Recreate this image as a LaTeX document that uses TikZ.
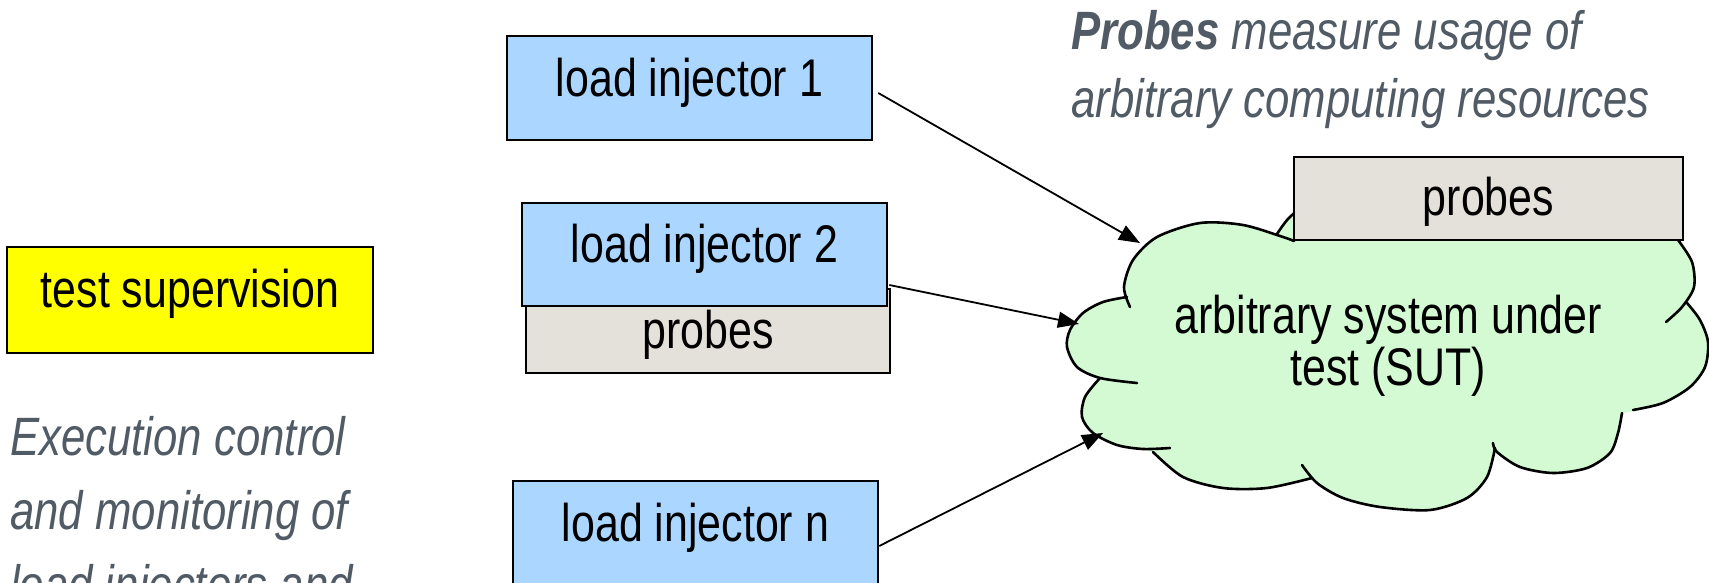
\documentclass[tikz,border=0pt]{standalone}
\usepackage{fontspec}
\setmainfont[FakeStretch=0.81]{Liberation Sans}
\usetikzlibrary{arrows.meta,calc}

\definecolor{injblue}{RGB}{170,214,255}
\definecolor{probegray}{RGB}{228,224,218}
\definecolor{supyellow}{RGB}{255,255,0}
\definecolor{cloudgreen}{RGB}{212,250,212}
\definecolor{notegray}{RGB}{81,91,101}

\begin{document}
\begin{tikzpicture}[x=1pt,y=-1pt,
  boxbase/.style={draw=black, line width=2.6pt, inner sep=0pt,
    font=\fontsize{53}{64}\selectfont, text height=38pt},
  injbox/.style={boxbase, fill=injblue, minimum width=365pt, minimum height=104pt},
  probebox/.style={boxbase, fill=probegray},
  supbox/.style={boxbase, fill=supyellow, minimum width=366pt, minimum height=106pt},
  note/.style={text=notegray, inner sep=0pt, align=left,
    font=\fontsize{54}{64}\selectfont\itshape},
  cloudline/.style={draw=black, line width=2.6pt, line cap=round},
  flow/.style={draw=black, line width=1.8pt, -{Triangle[length=21pt,width=16pt]}},
  cloudfill/.style={fill=cloudgreen, draw=cloudgreen, line width=1.5pt}]

\useasboundingbox (0,0) rectangle (1709,583);
\clip (0,0) rectangle (1709,583);

% supervision box and its note (base anchor = last line)
\node[supbox, text depth=24pt] (sup) at (190,300) {test supervision};
\node[note, anchor=base west,
  font=\fontsize{54}{74}\selectfont\itshape] (supnote) at (10,603)
  {Execution control\\and monitoring of\\load injectors and};

% load injectors
\node[injbox, text depth=20pt] (li1) at (689.5,88) {load injector 1};
\node[probebox, minimum width=364pt, minimum height=84pt, text depth=4pt]
  (pr2) at (708,331) {probes};
\node[injbox, minimum height=103pt, text depth=23pt] (li2) at (704.5,254.5) {load injector 2};
\node[injbox, text depth=22pt] (lin) at (695.5,533) {load injector n};

% cloud: filled body first
\fill[cloudfill] (1127,297) -- (1145,258) -- (1200,228) -- (1277,234) -- (1296,212)
  -- (1300,240) -- (1678,240) -- (1688,280) -- (1687,303) -- (1700,345)
  -- (1633,410) -- (1622,413) -- (1600,455) -- (1540,468) -- (1495,448)
  -- (1455,492) -- (1380,500) -- (1306,478) -- (1230,482) -- (1153,452)
  -- (1095,425) -- (1100,378) -- (1075,345) -- cycle;
\fill[cloudfill] plot[smooth] coordinates {(1130,307) (1124,287) (1133,260) (1157,237) (1200,223) (1243,225) (1283,237) (1294,241)} -- cycle;
\fill[cloudfill] plot[smooth] coordinates {(1277,234) (1288,219) (1305,205) (1330,195)} -- cycle;
\fill[cloudfill] plot[smooth] coordinates {(1678,240) (1692,262) (1694,287) (1682,307) (1666,322)} -- cycle;
\fill[cloudfill] plot[smooth] coordinates {(1687,303) (1700,320) (1708,342) (1705,367) (1690,387) (1663,403) (1633,410)} -- cycle;
\fill[cloudfill] plot[smooth] coordinates {(1622,413) (1618,433) (1610,453) (1587,468) (1553,473) (1520,467) (1497,452) (1493,443)} -- cycle;
\fill[cloudfill] plot[smooth] coordinates {(1495,448) (1487,477) (1467,498) (1430,510) (1380,507) (1343,498) (1317,483) (1302,465)} -- cycle;
\fill[cloudfill] plot[smooth] coordinates {(1312,478) (1267,488) (1223,488) (1183,477) (1153,452)} -- cycle;
\fill[cloudfill] plot[smooth] coordinates {(1100,378) (1085,397) (1082,417) (1093,433) (1117,445) (1143,449) (1170,448)} -- cycle;
\fill[cloudfill] plot[smooth] coordinates {(1127,297) (1103,302) (1083,313) (1070,330) (1067,347) (1077,367) (1100,378) (1137,383)} -- cycle;

% cloud: outline of each bump, with the inner curls
\draw[cloudline] plot[smooth] coordinates {(1130,307) (1124,287) (1133,260) (1157,237) (1200,223) (1243,225) (1283,237) (1294,241)};
\draw[cloudline] plot[smooth] coordinates {(1277,234) (1288,219) (1305,205) (1330,195)};
\draw[cloudline] plot[smooth] coordinates {(1678,240) (1692,262) (1694,287) (1682,307) (1666,322)};
\draw[cloudline] plot[smooth] coordinates {(1687,303) (1700,320) (1708,342) (1705,367) (1690,387) (1663,403) (1633,410)};
\draw[cloudline] plot[smooth] coordinates {(1622,413) (1618,433) (1610,453) (1587,468) (1553,473) (1520,467) (1497,452) (1493,443)};
\draw[cloudline] plot[smooth] coordinates {(1495,448) (1487,477) (1467,498) (1430,510) (1380,507) (1343,498) (1317,483) (1302,465)};
\draw[cloudline] plot[smooth] coordinates {(1312,478) (1267,488) (1223,488) (1183,477) (1153,452)};
\draw[cloudline] plot[smooth] coordinates {(1100,378) (1085,397) (1082,417) (1093,433) (1117,445) (1143,449) (1170,448)};
\draw[cloudline] plot[smooth] coordinates {(1127,297) (1103,302) (1083,313) (1070,330) (1067,347) (1077,367) (1100,378) (1137,383)};

% two-line label: the base anchor sits on the last line
\node[inner sep=0pt, align=center, anchor=base,
  font=\fontsize{53}{52}\selectfont] (sut) at (1388,385)
  {arbitrary system under\\test (SUT)};

% probes sitting on the system under test
\node[probebox, minimum width=389pt, minimum height=83pt, text depth=5pt]
  (pr1) at (1488.5,198.5) {probes};

\node[note, anchor=base west,
  font=\fontsize{54}{68}\selectfont\itshape] (probenote) at (1071,118)
  {\textbf{Probes} measure usage of\\arbitrary computing resources};

% load flows into the system under test
\coordinate (s1) at ($(li1.east)+(5,5)$);
\coordinate (s2) at ($(li2.east)+(1,30.5)$);
\coordinate (sn) at ($(lin.east)+(0,13)$);
\coordinate (in1) at (1140,243);
\coordinate (in2) at (1079,324);
\coordinate (inn) at (1103,433);
\draw[flow] (s1) -- (in1);
\draw[flow] (s2) -- (in2);
\draw[flow] (sn) -- (inn);
\end{tikzpicture}
\end{document}
